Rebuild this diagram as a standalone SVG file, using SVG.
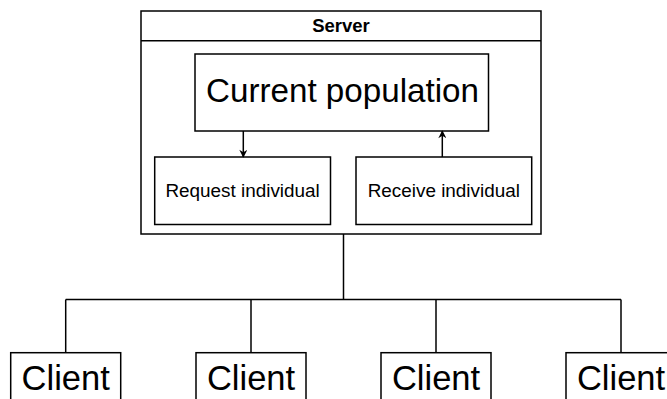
<svg xmlns="http://www.w3.org/2000/svg" width="667" height="399" viewBox="0 0 667 399">
  <style>
    .box { fill: #ffffff; stroke: #000000; stroke-width: 1.5; }
    .line { fill: none; stroke: #000000; stroke-width: 1.5; }
    .txt { font-family: "Liberation Sans", Arial, sans-serif; fill: #000000; text-anchor: middle; }
    .title { font-size: 18.5px; font-weight: bold; }
    .small { font-size: 18.9px; }
    .big { font-size: 33.2px; }
    .client { font-size: 34.5px; }
  </style>
  <defs>
    <marker id="arrow" viewBox="0 0 10 10" refX="9" refY="5" markerWidth="9" markerHeight="8" markerUnits="userSpaceOnUse" orient="auto">
      <path d="M0,0 L10,5 L0,10 L3,5 Z" fill="#000000"/>
    </marker>
  </defs>
  <rect width="667" height="399" fill="#ffffff"/>

  <!-- server container -->
  <g id="server">
    <rect class="box" x="141" y="11" width="400" height="223"/>
    <line class="line" x1="141" y1="40.7" x2="541" y2="40.7"/>
    <text class="txt title" x="341" y="31.8">Server</text>
  </g>

  <g id="current-population">
    <rect class="box" x="195" y="54" width="293.5" height="77"/>
    <text class="txt big" x="342.5" y="102.3">Current population</text>
  </g>

  <g id="request-individual">
    <rect class="box" x="154.7" y="157" width="175.8" height="67.5"/>
    <text class="txt small" x="242.6" y="197">Request individual</text>
  </g>

  <g id="receive-individual">
    <rect class="box" x="356" y="157" width="175.7" height="67.5"/>
    <text class="txt small" x="443.8" y="197">Receive individual</text>
  </g>

  <!-- clients -->
  <g id="client-1">
    <rect class="box" x="10.7" y="352.7" width="110" height="80"/>
    <text class="txt client" x="65.7" y="390">Client</text>
  </g>
  <g id="client-2">
    <rect class="box" x="196" y="352.7" width="110" height="80"/>
    <text class="txt client" x="251" y="390">Client</text>
  </g>
  <g id="client-3">
    <rect class="box" x="381" y="352.7" width="110" height="80"/>
    <text class="txt client" x="436" y="390">Client</text>
  </g>
  <g id="client-4">
    <rect class="box" x="566" y="352.7" width="110" height="80"/>
    <text class="txt client" x="621" y="390">Client</text>
  </g>

  <!-- connectors -->
  <g id="connectors">
    <line class="line" x1="243.3" y1="131" x2="243.3" y2="157" marker-end="url(#arrow)"/>
    <line class="line" x1="442.3" y1="157" x2="442.3" y2="131" marker-end="url(#arrow)"/>
    <line class="line" x1="343.5" y1="234" x2="343.5" y2="299.5"/>
    <line class="line" x1="65.7" y1="299.5" x2="621" y2="299.5"/>
    <line class="line" x1="65.7" y1="299.5" x2="65.7" y2="352.7"/>
    <line class="line" x1="251" y1="299.5" x2="251" y2="352.7"/>
    <line class="line" x1="436" y1="299.5" x2="436" y2="352.7"/>
    <line class="line" x1="621" y1="299.5" x2="621" y2="352.7"/>
  </g>
</svg>
